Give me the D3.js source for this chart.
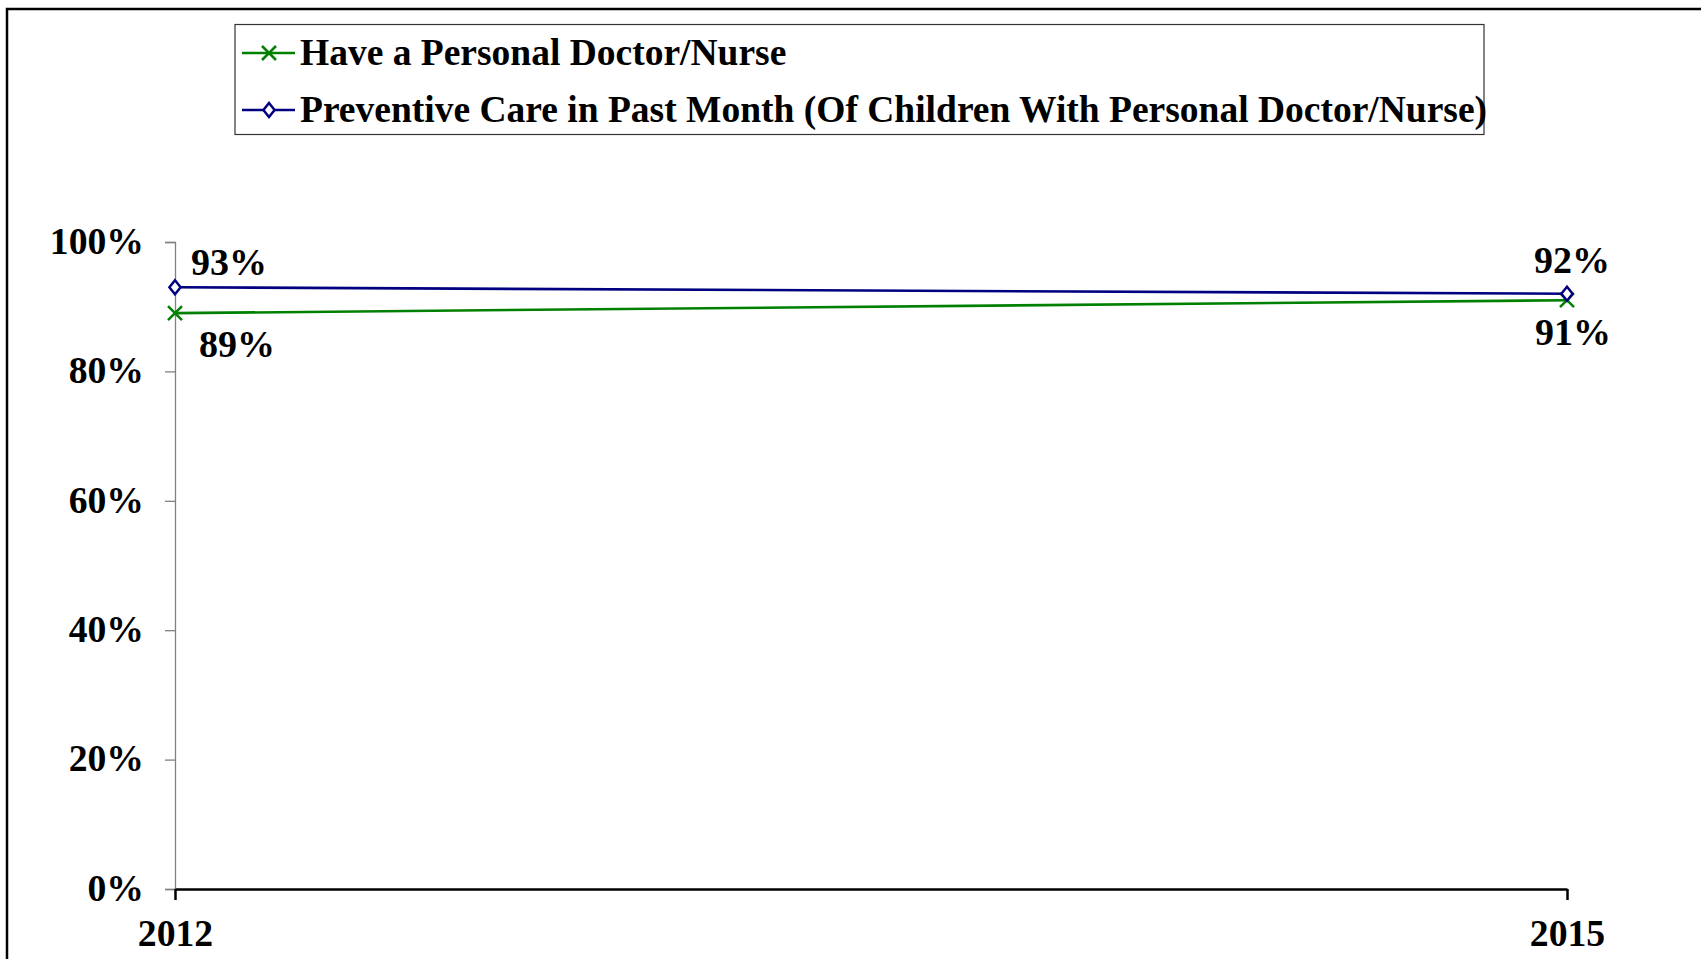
<!DOCTYPE html>
<html><head><meta charset="utf-8">
<script src="https://cdn.jsdelivr.net/npm/d3@7"></script>
<style>
html,body{margin:0;padding:0;background:#fff;overflow:hidden}
svg{display:block}
text{font-family:"Liberation Serif","Times New Roman",serif;font-weight:bold;fill:#000}
</style></head><body>
<svg id="c" width="1701" height="959"></svg>
<script>
const years = ["2012", "2015"];
const seriesNames = ["Have a Personal Doctor/Nurse", "Preventive Care in Past Month (Of Children With Personal Doctor/Nurse)"];
const doctorValues = [89, 91];
const preventiveValues = [93, 92];
const yTicks = [0, 20, 40, 60, 80, 100];

const series = [
  {name: seriesNames[0], values: doctorValues, color: "#008000", marker: "x",
   labelOff: [[62, 44], [6, 45]]},
  {name: seriesNames[1], values: preventiveValues, color: "#000080", marker: "diamond",
   labelOff: [[54, -12], [5, -21]]}
];

const svg = d3.select("#c");
// outer frame
svg.append("rect").attr("x", 7).attr("y", 9).attr("width", 1800).attr("height", 1000)
  .attr("fill", "none").attr("stroke", "#000").attr("stroke-width", 2.5);

const x = d3.scalePoint().domain(years).range([175, 1567]);
const y = d3.scaleLinear().domain([0, 100]).range([889, 242]);

// y axis
const yAxis = svg.append("g").attr("transform", "translate(175,0)")
  .call(d3.axisLeft(y).tickValues(yTicks).tickFormat(d => d + "%").tickSize(10).tickPadding(21));
yAxis.select(".domain").attr("stroke", "#808080").attr("stroke-width", 1.3);
yAxis.selectAll(".tick line").attr("stroke", "#808080").attr("stroke-width", 1.3);
yAxis.selectAll(".tick text").attr("font-size", 37.7).attr("font-family", null).attr("dy", "0.3em");

// x axis
const xAxis = svg.append("g").attr("transform", "translate(0,889)")
  .call(d3.axisBottom(x).tickSize(11).tickSizeOuter(0).tickPadding(20));
xAxis.select(".domain").attr("stroke", "#000").attr("stroke-width", 2.5);
xAxis.selectAll(".tick line").attr("stroke", "#000").attr("stroke-width", 2.5);
xAxis.selectAll(".tick text").attr("font-size", 37.7).attr("font-family", null).attr("dy", "0.68em");

const line = d3.line().x((d, i) => x(years[i])).y(d => y(d));

function drawMarker(g, type, cx, cy, color) {
  if (type === "x") {
    const s = 7;
    g.append("path").attr("d", `M${cx - s},${cy - s}L${cx + s},${cy + s}M${cx - s},${cy + s}L${cx + s},${cy - s}`)
      .attr("stroke", color).attr("stroke-width", 2.5).attr("fill", "none");
  } else {
    const s = 7;
    g.append("path").attr("d", `M${cx},${cy - s}L${cx + s * 0.8},${cy}L${cx},${cy + s}L${cx - s * 0.8},${cy}Z`)
      .attr("stroke", color).attr("stroke-width", 2.5).attr("fill", "#fff");
  }
}

series.forEach(s => {
  const g = svg.append("g");
  g.append("path").datum(s.values).attr("d", line).attr("fill", "none")
    .attr("stroke", s.color).attr("stroke-width", 2.6);
  s.values.forEach((v, i) => drawMarker(g, s.marker, x(years[i]), y(v), s.color));
  s.values.forEach((v, i) => {
    g.append("text").attr("x", x(years[i]) + s.labelOff[i][0]).attr("y", y(v) + s.labelOff[i][1])
      .attr("text-anchor", "middle").attr("font-size", 38).text(v + "%");
  });
});

// legend
const lg = svg.append("g");
lg.append("rect").attr("x", 235).attr("y", 24.5).attr("width", 1249).attr("height", 110)
  .attr("fill", "#fff").attr("stroke", "#333").attr("stroke-width", 1.2);
series.forEach((s, i) => {
  const cy = 53 + i * 57;
  lg.append("line").attr("x1", 242).attr("x2", 295).attr("y1", cy).attr("y2", cy)
    .attr("stroke", s.color).attr("stroke-width", 2.6);
  drawMarker(lg, s.marker, 269, cy, s.color);
  lg.append("text").attr("x", 300).attr("y", cy + 12).attr("font-size", 37.5).text(s.name);
});
</script>
</body></html>
